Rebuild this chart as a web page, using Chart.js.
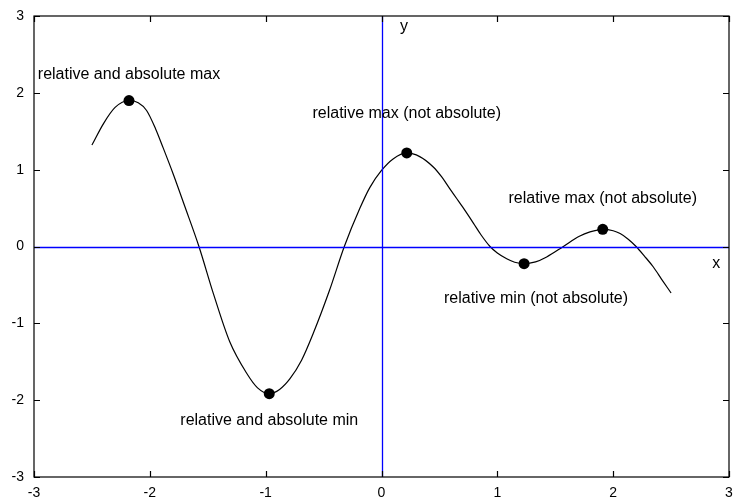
<!DOCTYPE html>
<html>
<head>
<meta charset="utf-8">
<script src="https://cdn.jsdelivr.net/npm/chart.js@4.4.1/dist/chart.umd.min.js"></script>
<style>
html,body{margin:0;padding:0;background:#fff;}
#wrap{width:735px;height:497px;}
</style>
</head>
<body>
<div id="wrap"><canvas id="c" width="735" height="497"></canvas></div>
<script>
// Curve samples
const curveX = [-2.5, -2.4, -2.3, -2.18, -2.1, -2.028, -1.95, -1.884, -1.8, -1.7, -1.576, -1.45, -1.31, -1.164, -1.07, -0.969, -0.88, -0.79, -0.69, -0.589, -0.451, -0.321, -0.186, -0.1, 0, 0.1, 0.218, 0.33, 0.447, 0.52, 0.586, 0.649, 0.70, 0.793, 0.86, 0.937, 1.0, 1.081, 1.15, 1.231, 1.33, 1.426, 1.57, 1.708, 1.8, 1.91, 2.0, 2.06, 2.13, 2.198, 2.27, 2.347, 2.42, 2.5];
const curveY = [1.32, 1.60, 1.81, 1.90, 1.87, 1.77, 1.53, 1.28, 0.95, 0.53, 0, -0.62, -1.24, -1.65, -1.84, -1.915, -1.86, -1.72, -1.48, -1.13, -0.58, 0, 0.50, 0.77, 0.99, 1.14, 1.218, 1.17, 1.035, 0.905, 0.76, 0.625, 0.515, 0.305, 0.15, 0, -0.085, -0.16, -0.205, -0.223, -0.20, -0.136, 0, 0.133, 0.19, 0.224, 0.205, 0.168, 0.095, 0, -0.125, -0.267, -0.43, -0.605];
// Extrema marked with dots
const extremaX = [-2.18, -0.969, 0.218, 1.231, 1.91];
const extremaY = [1.90, -1.915, 1.218, -0.223, 0.224];
// Annotations (data coordinates)
const noteTexts = ["relative and absolute max", "relative max (not absolute)", "relative max (not absolute)", "relative min (not absolute)", "relative and absolute min", "y", "x"];
const noteX = [-2.18, 0.218, 1.91, 1.334, -0.969, 0.194, 2.889];
const noteY = [2.235, 1.727, 0.62, -0.68, -2.27, 2.86, -0.226];
// Ticks
const tickVals = [-3, -2, -1, 0, 1, 2, 3];

const FONT = "'Liberation Sans', Arial, sans-serif";

const frame = {
  id: 'frame',
  afterDatasetsDraw(chart) {
    const {ctx, chartArea: a, scales: {x, y}} = chart;
    ctx.save();
    // zero axes in blue
    ctx.strokeStyle = 'rgb(0,0,255)';
    ctx.lineWidth = 1.3;
    const x0 = Math.round(x.getPixelForValue(0)) + 0.5;
    const y0 = Math.round(y.getPixelForValue(0)) + 0.5;
    ctx.beginPath();
    ctx.moveTo(x0, a.top); ctx.lineTo(x0, a.bottom);
    ctx.stroke();
    ctx.beginPath();
    ctx.moveTo(a.left, y0); ctx.lineTo(a.right, y0);
    ctx.stroke();
    // annotations
    ctx.fillStyle = '#000';
    ctx.font = '16px ' + FONT;
    ctx.textAlign = 'center';
    ctx.textBaseline = 'middle';
    noteTexts.forEach((t, i) => {
      ctx.fillText(t, x.getPixelForValue(noteX[i]), y.getPixelForValue(noteY[i]));
    });
    // frame
    ctx.strokeStyle = '#000';
    ctx.lineWidth = 1.2;
    ctx.strokeRect(a.left, a.top, a.right - a.left, a.bottom - a.top);
    const L = 6;
    ctx.beginPath();
    tickVals.forEach(v => {
      const px = Math.round(x.getPixelForValue(v)) + 0.5;
      ctx.moveTo(px, a.bottom); ctx.lineTo(px, a.bottom - L);
      ctx.moveTo(px, a.top); ctx.lineTo(px, a.top + L);
      const py = Math.round(y.getPixelForValue(v)) + 0.5;
      ctx.moveTo(a.left, py); ctx.lineTo(a.left + L, py);
      ctx.moveTo(a.right, py); ctx.lineTo(a.right - L, py);
    });
    ctx.stroke();
    ctx.restore();
  }
};

new Chart(document.getElementById('c'), {
  type: 'scatter',
  data: {
    datasets: [
      {
        data: curveX.map((v, i) => ({x: v, y: curveY[i]})),
        showLine: true,
        borderColor: '#000',
        borderWidth: 1.2,
        pointRadius: 0,
        cubicInterpolationMode: 'monotone',
        fill: false
      },
      {
        data: extremaX.map((v, i) => ({x: v, y: extremaY[i]})),
        showLine: false,
        pointRadius: 5.5,
        backgroundColor: '#000',
        borderColor: '#000',
        borderWidth: 0
      }
    ]
  },
  options: {
    responsive: false,
    animation: false,
    layout: {padding: {left: 0, right: 6, top: 16, bottom: 0}},
    plugins: {legend: {display: false}, tooltip: {enabled: false}},
    scales: {
      x: {
        type: 'linear', min: -3, max: 3,
        grid: {display: false, drawTicks: false},
        border: {display: false},
        ticks: {stepSize: 1, color: '#000', font: {family: FONT, size: 14}, padding: 8, maxRotation: 0, autoSkip: false},
        afterFit(s) { s.height = 20; s.paddingLeft = 0; s.paddingRight = 0; }
      },
      y: {
        type: 'linear', min: -3, max: 3,
        grid: {display: false, drawTicks: false},
        border: {display: false},
        ticks: {stepSize: 1, color: '#000', font: {family: FONT, size: 14}, padding: 10},
        afterFit(s) { s.width = 34; s.paddingTop = 0; s.paddingBottom = 0; }
      }
    }
  },
  plugins: [frame]
});
</script>
</body>
</html>
